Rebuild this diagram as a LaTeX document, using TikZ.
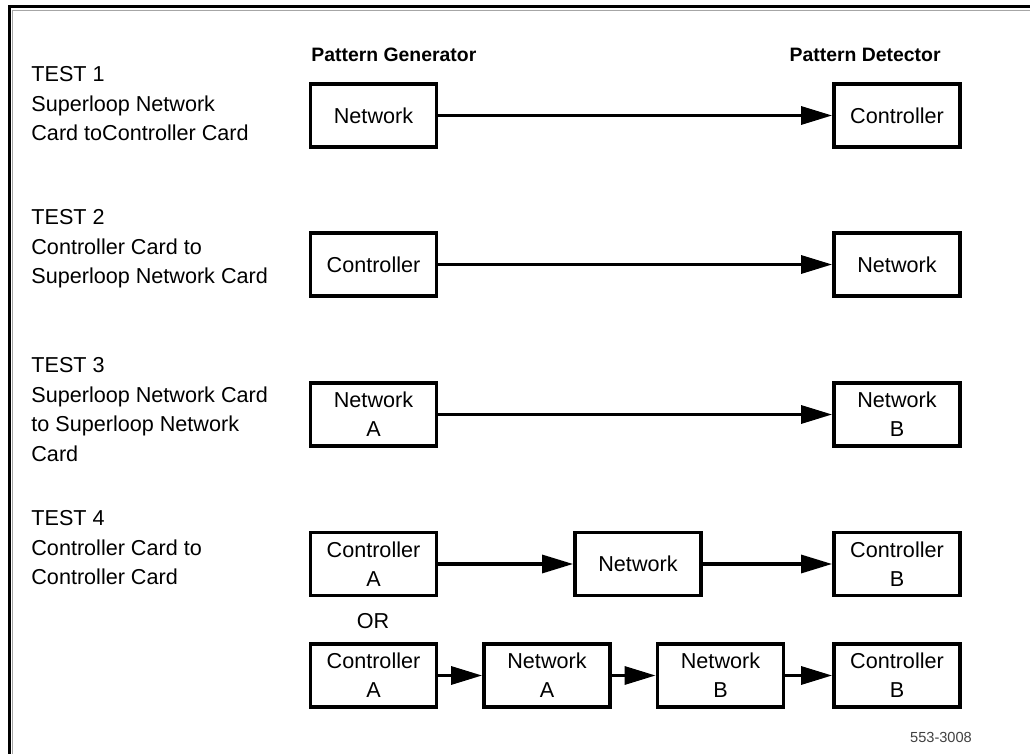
\documentclass[tikz,border=0pt]{standalone}
\usepackage{fontspec}
\setmainfont{Liberation Sans}
\usetikzlibrary{arrows.meta}
\begin{document}
\begin{tikzpicture}[x=0.5pt,y=-0.5pt,
  card/.style={draw,line width=1.9pt,minimum width=63pt,minimum height=31.5pt,
    inner sep=0pt,align=center,font=\fontsize{10.8}{14.5}\selectfont},
  flow/.style={-{Triangle[length=15.5pt,width=9pt]},line width=1.6pt},
  testtxt/.style={anchor=north west,inner sep=0pt,align=left,
    font=\fontsize{10.8}{14.7}\selectfont},
  hdr/.style={inner sep=0pt,font=\fontsize{9.7}{12}\selectfont\bfseries}]
\useasboundingbox (0,0) rectangle (1030,754);
\draw[line width=1.5pt] (9.5,754) -- (9.5,6.5) -- (1030,6.5);
\draw[line width=0.9pt,black!35] (12.5,754) -- (12.5,10.5) -- (1030,10.5);
\node[hdr,anchor=west] (gen) at (311,55) {Pattern Generator};
\node[hdr,anchor=east] (det) at (941,55) {Pattern Detector};
\node[testtxt] (t1) at (31,66.5) {TEST 1\\Superloop Network\\Card toController Card};
\node[testtxt] (t2) at (31,209.5) {TEST 2\\Controller Card to\\Superloop Network Card};
\node[testtxt] (t3) at (31,357.5) {TEST 3\\Superloop Network Card\\to Superloop Network\\Card};
\node[testtxt] (t4) at (31,510.5) {TEST 4\\Controller Card to\\Controller Card};
\node[card] (net1) at (373.5,115.5) {Network};
\node[card] (ctl1) at (897,115.5) {Controller};
\draw[flow] (net1) -- (ctl1);
\node[card] (ctl2) at (373.5,264.5) {Controller};
\node[card] (net2) at (897,264.5) {Network};
\draw[flow] (ctl2) -- (net2);
\node[card] (net3a) at (373.5,414.5) {Network\\A};
\node[card] (net3b) at (897,414.5) {Network\\B};
\draw[flow] (net3a) -- (net3b);
\node[card] (ctl4a) at (373.5,564) {Controller\\A};
\node[card] (net4) at (638,564) {Network};
\node[card] (ctl4b) at (897,564) {Controller\\B};
\draw[flow] (ctl4a) -- (net4);
\draw[flow] (net4) -- (ctl4b);
\node[font=\fontsize{10.8}{13}\selectfont] (or) at (373,621) {OR};
\node[card] (ctl5a) at (373.5,675.5) {Controller\\A};
\node[card] (net5a) at (547,675.5) {Network\\A};
\node[card] (net5b) at (720.5,675.5) {Network\\B};
\node[card] (ctl5b) at (897,675.5) {Controller\\B};
\draw[flow] (ctl5a) -- (net5a);
\draw[flow] (net5a) -- (net5b);
\draw[flow] (net5b) -- (ctl5b);
\node[font=\fontsize{7.3}{9}\selectfont,text=black!75] (fig) at (941,737) {553-3008};
\end{tikzpicture}
\end{document}
